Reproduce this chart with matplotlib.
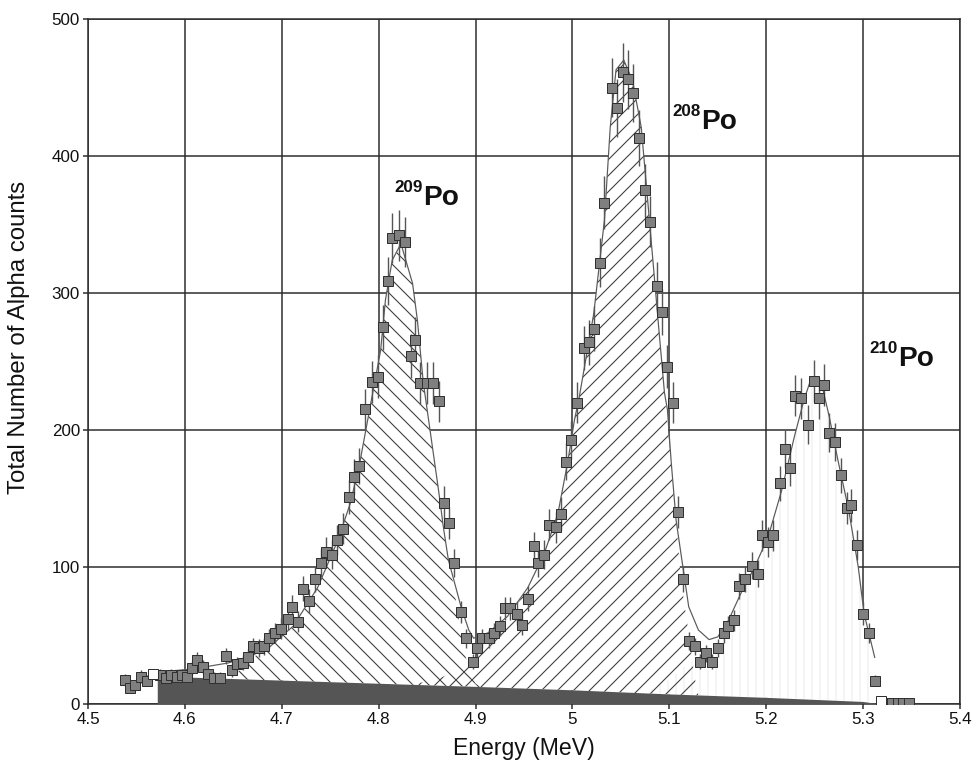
import numpy as np
import matplotlib
matplotlib.use("Agg")
import matplotlib.pyplot as plt

plt.rcParams['font.family'] = ['Liberation Sans', 'DejaVu Sans']

# ---------------- data ----------------
energy = [4.538, 4.543, 4.549, 4.555, 4.561, 4.574, 4.580, 4.586, 4.592, 4.597,
          4.602, 4.607, 4.612, 4.619, 4.624, 4.630, 4.636, 4.642, 4.649, 4.654,
          4.660, 4.665, 4.670, 4.676, 4.682, 4.687, 4.693, 4.699, 4.706, 4.711,
          4.717, 4.722, 4.728, 4.734, 4.740, 4.746, 4.752, 4.757, 4.763, 4.769,
          4.775, 4.780, 4.786, 4.793, 4.799, 4.804, 4.810, 4.814, 4.821, 4.827,
          4.833, 4.838, 4.843, 4.850, 4.856, 4.862, 4.867, 4.873, 4.878, 4.885,
          4.890, 4.897, 4.902, 4.907, 4.914, 4.919, 4.925, 4.930, 4.936, 4.943,
          4.948, 4.954, 4.960, 4.964, 4.971, 4.976, 4.983, 4.988, 4.993, 4.999,
          5.005, 5.012, 5.017, 5.022, 5.028, 5.033, 5.041, 5.046, 5.052, 5.057,
          5.063, 5.069, 5.075, 5.080, 5.087, 5.092, 5.098, 5.104, 5.109, 5.114,
          5.120, 5.127, 5.132, 5.138, 5.144, 5.150, 5.156, 5.161, 5.167, 5.172,
          5.178, 5.185, 5.191, 5.196, 5.202, 5.207, 5.214, 5.219, 5.225, 5.230,
          5.236, 5.243, 5.249, 5.254, 5.260, 5.265, 5.271, 5.277, 5.283, 5.288,
          5.294, 5.300, 5.306, 5.312, 5.324, 5.330, 5.336, 5.341, 5.347]
counts = [17.5, 12, 14, 20, 17, 21, 19, 21, 20, 21,
          20, 26, 32, 27, 22, 19, 19, 35, 25, 29,
          30, 34, 42, 41, 42, 48, 52, 55, 62, 71,
          60, 84, 75, 91, 103, 111, 109, 120, 128, 151,
          166, 174, 215, 235, 239, 275, 309, 340, 342, 337,
          254, 266, 234, 234, 234, 221, 147, 132, 103, 67,
          48, 31, 41, 48, 48, 52, 57, 70, 70, 66,
          58, 77, 115, 103, 109, 131, 129, 139, 177, 193,
          220, 260, 264, 274, 322, 366, 450, 435, 461, 456,
          446, 413, 375, 352, 305, 286, 246, 220, 140, 91,
          46, 42, 31, 37, 31, 41, 52, 57, 61, 86,
          91, 101, 95, 123, 118, 123, 161, 186, 172, 225,
          223, 204, 236, 223, 233, 198, 191, 167, 143, 145,
          116, 66, 52, 17, 0.5, 0.5, 1, 1, 0.5]

# excluded (open) points
open_energy = [4.567, 5.318]
open_counts = [22, 2]

# total fit curve (grey line)
fit_energy = [4.565, 4.600, 4.620, 4.645, 4.668, 4.688, 4.712, 4.737, 4.757, 4.771,
              4.781, 4.792, 4.802, 4.807, 4.814, 4.823, 4.835, 4.840, 4.846, 4.852,
              4.857, 4.862, 4.867, 4.872, 4.877, 4.885, 4.893, 4.898, 4.913, 4.933,
              4.954, 4.971, 4.985, 4.995, 5.002, 5.007, 5.022, 5.033, 5.039, 5.045,
              5.053, 5.062, 5.071, 5.077, 5.083, 5.089, 5.095, 5.098, 5.102, 5.107,
              5.114, 5.120, 5.130, 5.141, 5.150, 5.161, 5.174, 5.188, 5.202, 5.216,
              5.229, 5.239, 5.247, 5.257, 5.265, 5.274, 5.285, 5.295, 5.301, 5.312]
fit_counts = [23, 25, 27, 30, 35, 42, 57, 85, 118, 147,
              178, 220, 258, 295, 324, 336, 307, 280, 235, 205,
              180, 155, 128, 105, 92, 71, 54, 48, 52, 64,
              85, 110, 139, 176, 207, 224, 285, 353, 421, 463,
              470, 455, 421, 373, 324, 275, 227, 215, 176, 134,
              100, 71, 54, 47, 49, 61, 81, 100, 122, 156,
              195, 222, 239, 234, 210, 178, 142, 100, 66, 34]

# 209Po component (outline of "\\" hatched area)
po209_energy = [4.648, 4.668, 4.688, 4.712, 4.737, 4.757, 4.771, 4.781, 4.792, 4.802,
                4.807, 4.814, 4.823, 4.835, 4.840, 4.846, 4.852, 4.857, 4.862, 4.867,
                4.872, 4.877, 4.882, 4.888, 4.893, 4.900, 4.906]
po209_counts = [18.5, 33, 42, 57, 85, 118, 147, 178, 220, 258,
                295, 324, 336, 307, 280, 235, 205, 180, 155, 128,
                105, 88, 65, 40, 25, 15, 12.3]

# 208Po component (outline of "/" hatched area)
po208_energy = [4.833, 4.860, 4.880, 4.895, 4.910, 4.920, 4.933, 4.954, 4.971, 4.985,
                4.995, 5.002, 5.007, 5.022, 5.033, 5.039, 5.045, 5.053, 5.062, 5.071,
                5.077, 5.083, 5.089, 5.095, 5.100, 5.107, 5.112, 5.117, 5.122, 5.125,
                5.128, 5.130]
po208_counts = [14, 18, 24, 30, 40, 48, 62, 85, 110, 139,
                176, 207, 224, 285, 353, 421, 463, 470, 455, 421,
                373, 324, 275, 227, 190, 134, 90, 66, 42, 25,
                12, 7]

# 210Po component (outline of faint vertical-line area)
po210_energy = [5.075, 5.100, 5.120, 5.140, 5.150, 5.161, 5.174, 5.188, 5.202, 5.216,
                5.229, 5.239, 5.247, 5.257, 5.265, 5.274, 5.285, 5.295, 5.301, 5.312,
                5.3125]
po210_counts = [8, 18, 30, 42, 47, 58, 80, 100, 122, 156,
                195, 222, 239, 234, 210, 178, 142, 100, 66, 34,
                1]

# linear background (dark area)
bg_energy = [4.572, 4.900, 5.000, 5.100, 5.200, 5.300, 5.315]
bg_counts = [20, 12.5, 10, 7, 4.5, 1.5, 0]

x_ticks = [4.5, 4.6, 4.7, 4.8, 4.9, 5.0, 5.1, 5.2, 5.3, 5.4]
x_ticklabels = ['4.5', '4.6', '4.7', '4.8', '4.9', '5', '5.1', '5.2', '5.3', '5.4']
y_ticks = [0, 100, 200, 300, 400, 500]

# peak labels: (mass number, x of "Po", baseline count)
peak_labels = [('209', 4.8464, 364), ('208', 5.1329, 420), ('210', 5.3366, 247)]

# ---------------- figure ----------------
DPI = 144
fig = plt.figure(figsize=(976 / DPI, 766 / DPI), dpi=DPI)
ax = fig.add_axes([88 / 976, 1 - 704 / 766, (960 - 88) / 976, (704 - 19) / 766])

ax.set_xlim(4.5, 5.4)
ax.set_ylim(0, 500)
ax.set_xticks(x_ticks)
ax.set_xticklabels(x_ticklabels)
ax.set_yticks(y_ticks)
ax.grid(True, color='#2a2a2a', linewidth=0.75, zorder=0)
ax.set_axisbelow(True)
for s in ax.spines.values():
    s.set_color('#2a2a2a')
    s.set_linewidth(0.75)
ax.tick_params(direction='out', length=2.5, width=0.75, colors='#2a2a2a',
               labelsize=8.5, labelcolor='#111111', pad=1.5)

bg_e = np.array(bg_energy)
bg_c = np.array(bg_counts)

# white masks under peak areas, then the hatching on top
comps = [(po209_energy, po209_counts, '\\\\\\', '#404040', 0.55),
         (po208_energy, po208_counts, '///', '#404040', 0.55),
         (po210_energy, po210_counts, '|||', '#e6e6e6', 0.4)]
for ce, cc, h, col, lw in comps:
    ce = np.array(ce)
    base = np.interp(ce, bg_e, bg_c)
    ax.fill_between(ce, base, cc, facecolor='white', edgecolor='none',
                    linewidth=0, zorder=1)
for ce, cc, h, col, lw in reversed(comps):
    ce = np.array(ce)
    base = np.interp(ce, bg_e, bg_c)
    with plt.rc_context({'hatch.linewidth': lw}):
        ax.fill_between(ce, base, cc, facecolor='none', edgecolor=col,
                        hatch=h, linewidth=0, zorder=2)

# dark background area
ax.fill_between(bg_e, 0, bg_c, facecolor='#555555', edgecolor='none', zorder=3)

# total fit line
ax.plot(fit_energy, fit_counts, color='#5a5a5a', linewidth=0.6, zorder=4)

# measured data with Poisson error bars
cnt = np.array(counts)
ax.errorbar(energy, cnt, yerr=np.sqrt(cnt), fmt='none', ecolor='#555555',
            elinewidth=0.7, capsize=0, zorder=5)
ax.plot(energy, cnt, linestyle='none', marker='s', markersize=4.6,
        markerfacecolor='#7f7f7f', markeredgecolor='#303030',
        markeredgewidth=0.5, zorder=6)
ax.plot(open_energy, open_counts, linestyle='none', marker='s', markersize=4.6,
        markerfacecolor='white', markeredgecolor='#303030',
        markeredgewidth=0.5, zorder=6)

# peak labels
for mass, xe, yc in peak_labels:
    ax.text(xe, yc, 'Po', ha='left', va='baseline', fontsize=14,
            fontweight='bold', color='#111111', zorder=7)
    ax.annotate(mass, xy=(xe, yc), xytext=(-0.5, 6.5), textcoords='offset points',
                ha='right', va='baseline', fontsize=8.5, fontweight='bold',
                color='#111111', zorder=7)

ax.set_xlabel('Energy (MeV)', fontsize=11.5, color='#111111')
ax.set_ylabel('Total Number of Alpha counts', fontsize=12, color='#111111')
ax.xaxis.set_label_coords(0.5, -0.048)
ax.yaxis.set_label_coords(-0.066, 0.535)

fig.savefig('out.png', dpi=DPI, facecolor='white')
